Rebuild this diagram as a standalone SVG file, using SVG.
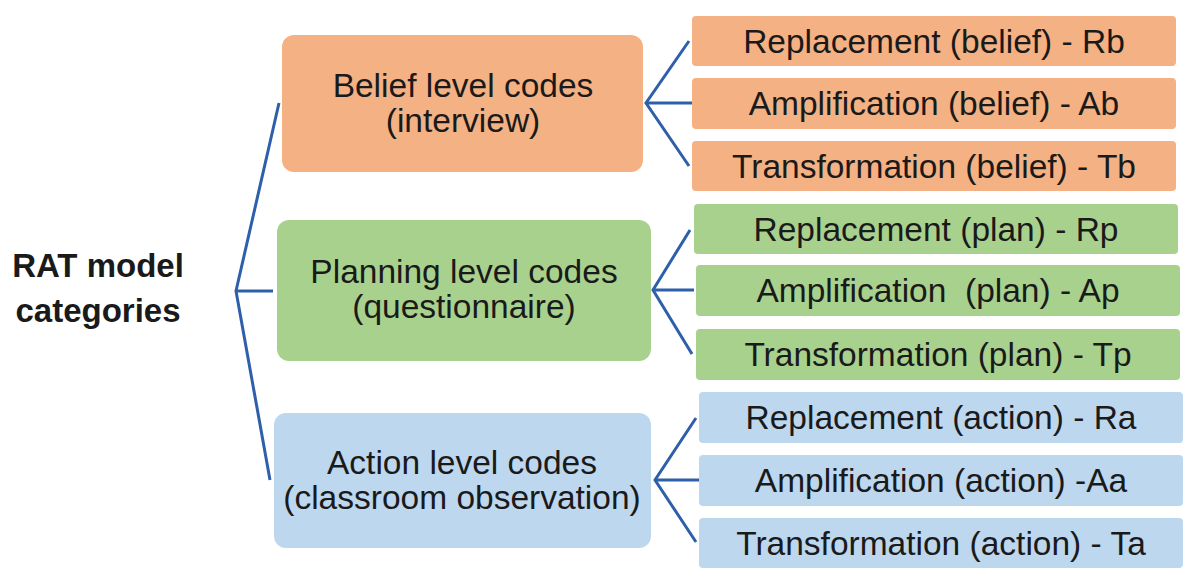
<svg xmlns="http://www.w3.org/2000/svg" width="1200" height="586" viewBox="0 0 1200 586">
<style>
  .t { font-family: "Liberation Sans", Arial, sans-serif; font-size: 33.5px; fill: #1a1a1a; text-anchor: middle; }
  .b { font-weight: bold; font-size: 33px; }
  .or { fill: #F4B183; }
  .gr { fill: #A9D18E; }
  .bl { fill: #BDD7EE; }
  .c { stroke: #2E5FAA; stroke-width: 3; fill: none; stroke-linejoin: miter; }
</style>
<rect width="1200" height="586" fill="#ffffff"/>

<g id="connectors">
  <polyline class="c" points="279,103 236,291 270,480"/>
  <line class="c" x1="236" y1="291" x2="273" y2="291"/>
  <polyline class="c" points="689,41 646,103 689,166"/>
  <line class="c" x1="646" y1="103" x2="692" y2="103"/>
  <polyline class="c" points="690,230 653,290 692,354"/>
  <line class="c" x1="653" y1="290" x2="694" y2="290"/>
  <polyline class="c" points="696,418 655,480 696,542"/>
  <line class="c" x1="655" y1="480" x2="700" y2="480"/>
</g>

<g id="root">
  <text class="t b" x="98" y="277">RAT model</text>
  <text class="t b" x="98" y="322">categories</text>
</g>

<g id="belief">
  <rect class="or" x="282" y="35" width="361" height="137" rx="12"/>
  <text class="t" x="463" y="97">Belief level codes</text>
  <text class="t" x="463" y="132">(interview)</text>
</g>
<g id="planning">
  <rect class="gr" x="277" y="220" width="374" height="141" rx="12"/>
  <text class="t" x="464" y="283">Planning level codes</text>
  <text class="t" x="464" y="318">(questionnaire)</text>
</g>
<g id="action">
  <rect class="bl" x="274" y="413" width="377" height="135" rx="12"/>
  <text class="t" x="462" y="474">Action level codes</text>
  <text class="t" x="462" y="509">(classroom observation)</text>
</g>

<g id="rb">
  <rect class="or" x="692" y="16" width="484" height="50" rx="4"/>
  <text class="t" x="934" y="53">Replacement (belief) - Rb</text>
</g>
<g id="ab">
  <rect class="or" x="692" y="78" width="484" height="51" rx="4"/>
  <text class="t" x="934" y="115">Amplification (belief) - Ab</text>
</g>
<g id="tb">
  <rect class="or" x="692" y="141" width="484" height="50" rx="4"/>
  <text class="t" x="934" y="178">Transformation (belief) - Tb</text>
</g>

<g id="rp">
  <rect class="gr" x="694" y="204" width="484" height="50" rx="4"/>
  <text class="t" x="936" y="241">Replacement (plan) - Rp</text>
</g>
<g id="ap">
  <rect class="gr" x="696" y="265" width="484" height="51" rx="4"/>
  <text class="t" x="938" y="302" xml:space="preserve">Amplification  (plan) - Ap</text>
</g>
<g id="tp">
  <rect class="gr" x="696" y="329" width="484" height="51" rx="4"/>
  <text class="t" x="938" y="366">Transformation (plan) - Tp</text>
</g>

<g id="ra">
  <rect class="bl" x="699" y="392" width="484" height="51" rx="4"/>
  <text class="t" x="941" y="429">Replacement (action) - Ra</text>
</g>
<g id="aa">
  <rect class="bl" x="699" y="455" width="484" height="51" rx="4"/>
  <text class="t" x="941" y="492">Amplification (action) -Aa</text>
</g>
<g id="ta">
  <rect class="bl" x="699" y="518" width="484" height="50" rx="4"/>
  <text class="t" x="941" y="555">Transformation (action) - Ta</text>
</g>
</svg>
